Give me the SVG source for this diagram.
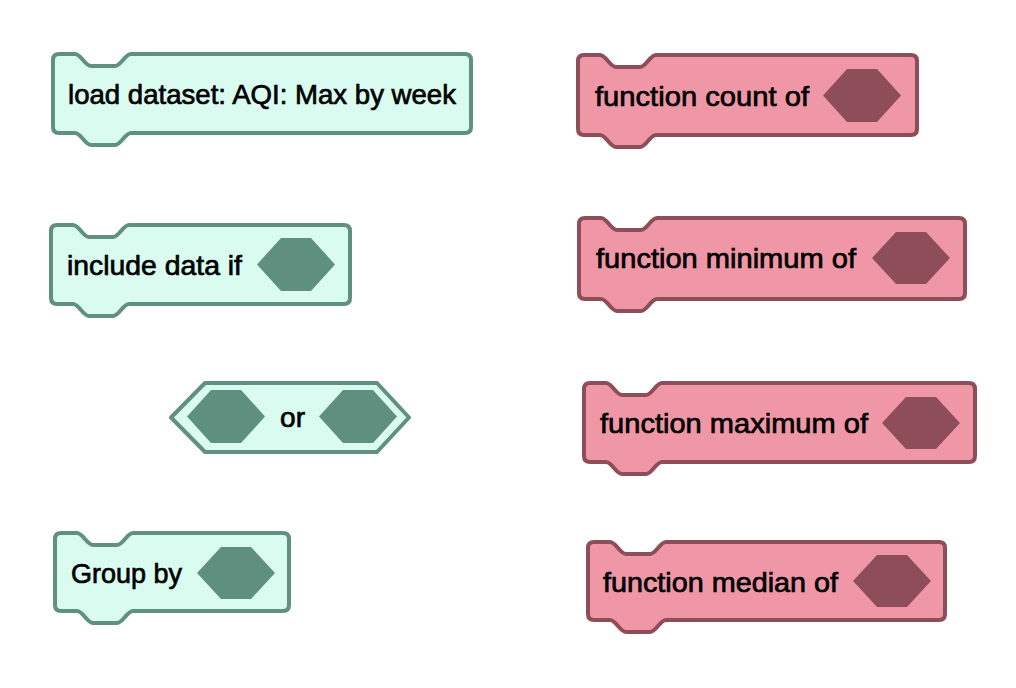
<svg xmlns="http://www.w3.org/2000/svg" width="1016" height="688" viewBox="0 0 1016 688">
<style>
.mint{fill:#dafbef;stroke:#5f9080;stroke-width:4;stroke-linejoin:round}
.pink{fill:#f097a7;stroke:#8d4d59;stroke-width:4;stroke-linejoin:round}
.hm{fill:#5f907f}
.hp{fill:#8d4e5a}
.t{font-family:"Liberation Sans",Arial,sans-serif;font-size:28px;fill:#000;stroke:#000;stroke-width:0.7}
</style>
<rect width="1016" height="688" fill="#fff"/>
<g id="load-dataset">
<path class="mint" d="M53,60 Q53,54 59,54 H75 C81,54 85,66 91,66 H115 C121,66 125,54 131,54 H465 Q471,54 471,60 V127 Q471,133 465,133 H131 C125,133 121,145 115,145 H91 C85,145 81,133 75,133 H59 Q53,133 53,127 Z"/>
<text class="t" x="68" y="104" textLength="388" lengthAdjust="spacingAndGlyphs">load dataset: AQI: Max by week</text>
</g>
<g id="include-data-if">
<path class="mint" d="M51,231 Q51,225 57,225 H73 C79,225 83,237 89,237 H113 C119,237 123,225 129,225 H344 Q350,225 350,231 V298 Q350,304 344,304 H129 C123,304 119,316 113,316 H89 C83,316 79,304 73,304 H57 Q51,304 51,298 Z"/>
<text class="t" x="67" y="275" textLength="175" lengthAdjust="spacingAndGlyphs">include data if</text>
<polygon class="hm" points="257,264.5 281,238 311,238 335,264.5 311,291 281,291"/>
</g>
<g id="or">
<polygon class="mint" points="171,417.5 205,383 377,383 409,417.5 377,452 205,452"/>
<polygon class="hm" points="187,416.5 211,390 241,390 265,416.5 241,443 211,443"/>
<polygon class="hm" points="319,416.5 343,390 373,390 397,416.5 373,443 343,443"/>
<text class="t" x="280" y="427" textLength="25" lengthAdjust="spacingAndGlyphs">or</text>
</g>
<g id="group-by">
<path class="mint" d="M55,539 Q55,533 61,533 H77 C83,533 87,545 93,545 H117 C123,545 127,533 133,533 H283 Q289,533 289,539 V605 Q289,611 283,611 H133 C127,611 123,623 117,623 H93 C87,623 83,611 77,611 H61 Q55,611 55,605 Z"/>
<text class="t" x="71" y="583" textLength="111" lengthAdjust="spacingAndGlyphs">Group by</text>
<polygon class="hm" points="197,573 221,547 251,547 275,573 251,599 221,599"/>
</g>
<g id="function-count">
<path class="pink" d="M578,61 Q578,55 584,55 H600 C606,55 610,67 616,67 H640 C646,67 650,55 656,55 H911 Q917,55 917,61 V129 Q917,135 911,135 H656 C650,135 646,147 640,147 H616 C610,147 606,135 600,135 H584 Q578,135 578,129 Z"/>
<text class="t" x="595" y="106" textLength="214" lengthAdjust="spacingAndGlyphs">function count of</text>
<polygon class="hp" points="823,95.5 847,69 877,69 901,95.5 877,122 847,122"/>
</g>
<g id="function-minimum">
<path class="pink" d="M579,224 Q579,218 585,218 H601 C607,218 611,230 617,230 H641 C647,230 651,218 657,218 H959 Q965,218 965,224 V293 Q965,299 959,299 H657 C651,299 647,311 641,311 H617 C611,311 607,299 601,299 H585 Q579,299 579,293 Z"/>
<text class="t" x="596" y="268" textLength="260" lengthAdjust="spacingAndGlyphs">function minimum of</text>
<polygon class="hp" points="872,258 896,232 926,232 950,258 926,284 896,284"/>
</g>
<g id="function-maximum">
<path class="pink" d="M584,389 Q584,383 590,383 H606 C612,383 616,395 622,395 H646 C652,395 656,383 662,383 H969 Q975,383 975,389 V456 Q975,462 969,462 H662 C656,462 652,474 646,474 H622 C616,474 612,462 606,462 H590 Q584,462 584,456 Z"/>
<text class="t" x="600" y="433" textLength="268" lengthAdjust="spacingAndGlyphs">function maximum of</text>
<polygon class="hp" points="882,423 906,397 936,397 960,423 936,449 906,449"/>
</g>
<g id="function-median">
<path class="pink" d="M588,548 Q588,542 594,542 H610 C616,542 620,554 626,554 H650 C656,554 660,542 666,542 H939 Q945,542 945,548 V614 Q945,620 939,620 H666 C660,620 656,632 650,632 H626 C620,632 616,620 610,620 H594 Q588,620 588,614 Z"/>
<text class="t" x="603" y="592" textLength="235" lengthAdjust="spacingAndGlyphs">function median of</text>
<polygon class="hp" points="853,581 877,555 907,555 931,581 907,607 877,607"/>
</g>
<g id="connectors"/>
</svg>
